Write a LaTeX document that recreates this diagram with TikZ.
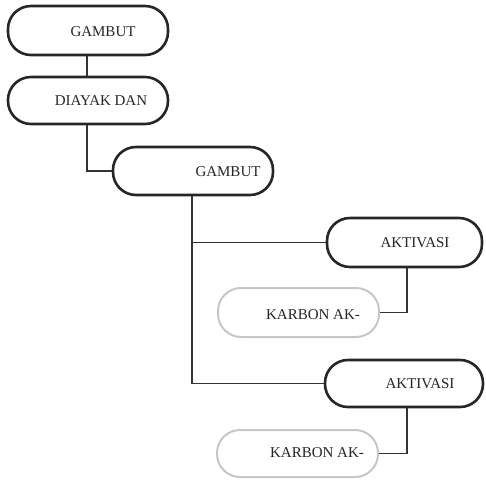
\documentclass[tikz,border=0pt]{standalone}
\usepackage{fontspec}
\setmainfont{Liberation Serif}
\begin{document}
\begin{tikzpicture}[x=1pt,y=-1pt,
  pill/.style={draw=black!85, line width=2.6pt, rounded corners=23pt, fill=white, inner sep=0pt},
  ghost/.style={draw=gray!45, line width=2pt, rounded corners=23pt, fill=white, inner sep=0pt},
  lbl/.style={font=\fontsize{15}{17}\selectfont, inner sep=0pt, text=black!85},
  conn/.style={draw=black!80, line width=1.3pt}]
\useasboundingbox (0,0) rectangle (486,480);
\node[pill, minimum width=160pt, minimum height=49pt] (n1) at (88,30.5) {};
\node[pill, minimum width=160pt, minimum height=47pt] (n2) at (88,100.5) {};
\node[pill, minimum width=160pt, minimum height=48pt] (n3) at (193,171) {};
\node[pill, minimum width=155pt, minimum height=49pt] (n4) at (404.5,242.5) {};
\node[ghost, minimum width=161pt, minimum height=49pt] (n5) at (298.5,312.5) {};
\node[pill, minimum width=158pt, minimum height=47pt] (n6) at (404,383.5) {};
\node[ghost, minimum width=161pt, minimum height=47pt] (n7) at (297.5,453.5) {};

\node[lbl] (t1) at (103,32) {GAMBUT};
\node[lbl] (t2) at (101,101) {DIAYAK DAN};
\node[lbl] (t3) at (228,172) {GAMBUT};
\node[lbl] (t4) at (415,243) {AKTIVASI};
\node[lbl] (t5) at (313,315) {KARBON AK-};
\node[lbl] (t6) at (420,384) {AKTIVASI};
\node[lbl] (t7) at (317,453) {KARBON AK-};

\draw[conn] ([xshift=-1pt]n1.south) -- ([xshift=-1pt]n2.north);
\draw[conn] ([xshift=-1pt]n2.south) |- (n3.west);
\draw[conn] ([xshift=-1pt]n3.south) |- (n4.west);
\draw[conn] ([xshift=-1pt]n3.south) |- (n6.west);
\draw[conn] ([xshift=2.5pt]n4.south) |- (n5.east);
\draw[conn] ([xshift=3pt]n6.south) |- (n7.east);
\end{tikzpicture}
\end{document}
